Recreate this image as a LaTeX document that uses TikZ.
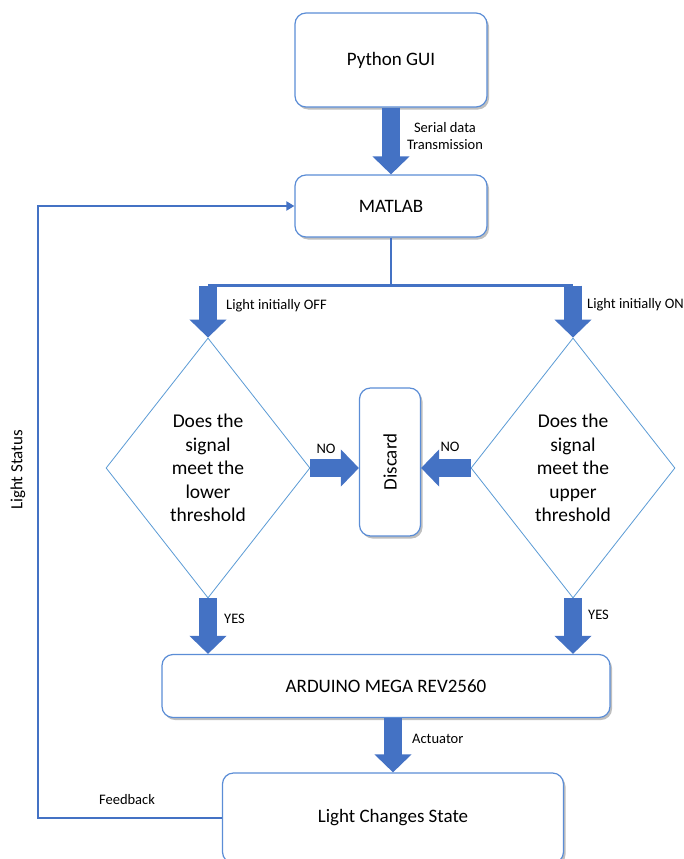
\documentclass[tikz,border=0pt]{standalone}
\usepackage{fontspec}
\setmainfont{Carlito}
\usetikzlibrary{shapes.geometric,arrows.meta,shadows}
\definecolor{boxblue}{RGB}{91,141,214}
\definecolor{arrowblue}{RGB}{68,114,196}
\definecolor{diablue}{RGB}{91,155,213}

\begin{document}
\begin{tikzpicture}[x=1pt,y=-1pt,
    block/.style={draw=boxblue, line width=1.2pt, fill=white, rounded corners=11pt,
        drop shadow={shadow xshift=2pt, shadow yshift=-2.5pt, opacity=0.25, fill=black},
        font=\fontsize{19}{23}\selectfont, inner sep=0pt},
    decision/.style={diamond, draw=diablue, line width=0.8pt, fill=white,
        minimum width=204pt, minimum height=260pt, align=center, inner sep=0pt,
        font=\fontsize{19.5}{23.5}\selectfont},
    fat/.style={draw=arrowblue, line width=18pt, -{Triangle[width=36pt,length=18pt]}},
    link/.style={draw=arrowblue, line width=2.8pt},
    lbl/.style={font=\fontsize{14.5}{17.5}\selectfont, inner sep=0pt}]
    \useasboundingbox (0,0) rectangle (684,859);

    % boxes
    \node[block, minimum width=192pt, minimum height=94pt] (gui) at (391,60) {Python GUI};
    \node[block, minimum width=192pt, minimum height=62pt] (matlab) at (391,206) {MATLAB};
    \node[decision] (lower) at (208,468) {Does the\\signal\\meet the\\lower\\threshold};
    \node[decision] (upper) at (573,468) {Does the\\signal\\meet the\\upper\\threshold};
    \node[block, minimum width=61pt, minimum height=148pt] (discard) at (390,462) {\rotatebox{90}{Discard}};
    \node[block, minimum width=448pt, minimum height=63pt] (arduino) at (386,686) {ARDUINO MEGA REV2560};
    \node[block, minimum width=341pt, minimum height=90pt] (light) at (393,818) {Light Changes State};

    % fat arrows
    \draw[fat] (gui) -- (matlab);
    \draw[link] (matlab.south) -- ++(0,48) coordinate (split);
    \draw[link] (lower.north |- split) -- (upper.north |- split);
    \draw[fat] (lower.north |- split) -- (lower.north);
    \draw[fat] (upper.north |- split) -- (upper.north);
    \draw[fat] (lower.east) -- (lower.east -| discard.west);
    \draw[fat] (upper.west) -- (upper.west -| discard.east);
    \draw[fat] (lower.south) -- (lower.south |- arduino.north);
    \draw[fat] (upper.south) -- (upper.south |- arduino.north);
    \draw[fat] (light.north |- arduino.south) -- (light.north);

    % feedback loop
    \coordinate (corner) at (38,818);
    \draw[link, -{Triangle[width=9pt,length=8pt]}] (light.west) -- (corner) |- (matlab.west);

    % labels
    \node[lbl, align=center] (serial) at (445,136) {Serial data\\Transmission};
    \node[lbl, anchor=west] (offlbl) at (226,306) {Light initially OFF};
    \node[lbl, anchor=west] (onlbl) at (587,305) {Light initially ON};
    \node[lbl] (nolower) at (326,449) {NO};
    \node[lbl] (noupper) at (450,447) {NO};
    \node[lbl, anchor=west] (yeslower) at (224,619) {YES};
    \node[lbl, anchor=west] (yesupper) at (588,615) {YES};
    \node[lbl, anchor=west] (actlbl) at (412,739) {Actuator};
    \node[lbl] (fblbl) at (127,800) {Feedback};
    \node[lbl, rotate=90, font=\fontsize{17}{20}\selectfont] (status) at (18,470) {Light Status};
\end{tikzpicture}
\end{document}
